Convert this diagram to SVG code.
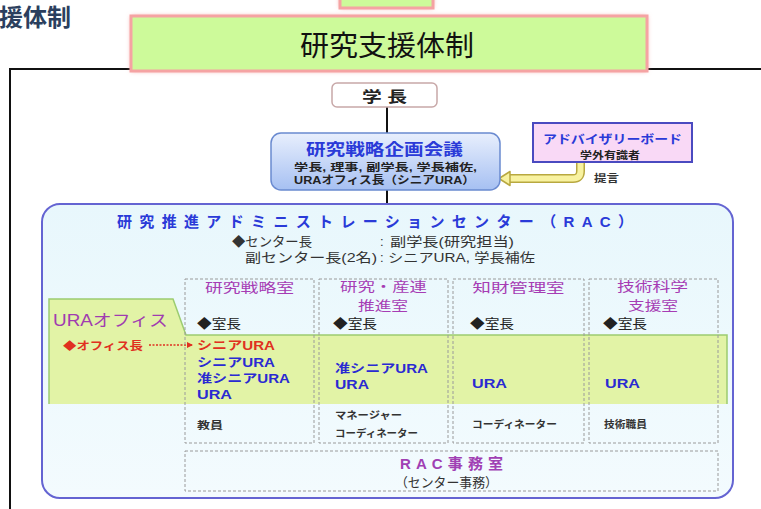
<svg xmlns="http://www.w3.org/2000/svg" width="761" height="509" viewBox="0 0 761 509">
<defs>
<style>
.jp{font-family:"Liberation Sans","Noto Sans CJK JP",sans-serif}
.b{font-weight:bold}
.dept{font-family:"Noto Sans CJK JP",sans-serif;font-size:13px;fill:#a63cb4;text-anchor:middle}
.chief{font-family:"Noto Sans CJK JP",sans-serif;font-size:13px;fill:#222}
.ura{font-family:"Liberation Sans","Noto Sans CJK JP",sans-serif;font-size:12px;font-weight:bold;fill:#2a2ad2}
.staff{font-family:"Noto Sans CJK JP",sans-serif;font-size:10px;font-weight:bold;fill:#333}
.hd{font-family:"Liberation Sans","Noto Sans CJK JP",sans-serif;font-size:13px;fill:#333}
.dash{fill:none;stroke:#9a9a9a;stroke-width:1;stroke-dasharray:3 2}
.conn{stroke:#111;stroke-width:2;fill:none}
</style>
<linearGradient id="gStrat" x1="0" y1="0" x2="0" y2="1">
<stop offset="0" stop-color="#e8effd"/><stop offset="1" stop-color="#a6c0f2"/>
</linearGradient>
<linearGradient id="gRac" x1="0" y1="0" x2="0" y2="1">
<stop offset="0" stop-color="#e8f7fc"/><stop offset="1" stop-color="#f3fbfe"/>
</linearGradient>
<filter id="glow" x="-10%" y="-30%" width="120%" height="160%">
<feGaussianBlur stdDeviation="2.5"/>
</filter>
<marker id="arrRed" markerWidth="6" markerHeight="6" refX="5" refY="3" orient="auto" markerUnits="userSpaceOnUse">
<path d="M0,0 L6,3 L0,6 z" fill="#e03020"/>
</marker>
</defs>
<rect width="761" height="509" fill="#fff"/>

<!-- page heading -->
<text x="-1" y="26" class="jp b" font-size="24" fill="#2b3f5e">援体制</text>

<!-- outer frame -->
<path d="M10,515 V69 H770" fill="none" stroke="#111" stroke-width="2"/>

<!-- title boxes -->
<g id="title-top">
<rect x="340" y="-12" width="93" height="20" fill="#f4a0a0" filter="url(#glow)"/>
<rect x="340" y="-12" width="93" height="20" fill="#cdfa9a" stroke="#f5a3a3" stroke-width="3"/>
</g>
<g id="title">
<rect x="131" y="16" width="516" height="55" fill="#f4a0a0" filter="url(#glow)"/>
<rect x="131" y="16" width="516" height="55" fill="#cdfa9a" stroke="#f5a3a3" stroke-width="3"/>
<text x="300" y="56" font-family="Noto Sans CJK JP,sans-serif" font-size="28" fill="#111" textLength="174" lengthAdjust="spacingAndGlyphs">研究支援体制</text>
</g>

<!-- connectors -->
<g id="connectors">
<line class="conn" x1="387" y1="107" x2="387" y2="133"/>
<line class="conn" x1="387" y1="190" x2="387" y2="205"/>
<path d="M580.5,162 V171 Q580.5,178.5 573,178.5 H508" fill="none" stroke="#b8a840" stroke-width="9"/>
<path d="M580.5,161 V171 Q580.5,178.5 573,178.5 H507" fill="none" stroke="#f8f2a0" stroke-width="6"/>
<path d="M499,178.5 L510,171.5 L510,185.5 z" fill="#f8f2a0" stroke="#b8a840" stroke-width="1.5" stroke-linejoin="round"/>
<text x="594" y="182" class="jp b" font-size="10" fill="#333" textLength="25" lengthAdjust="spacingAndGlyphs">提言</text>
</g>

<!-- president -->
<g id="president">
<rect x="332" y="83" width="105" height="24" rx="5" fill="#fff" stroke="#c8a8a8" stroke-width="1.5"/>
<text x="362" y="102" class="jp b" font-size="15" fill="#222" textLength="45" lengthAdjust="spacingAndGlyphs">学 長</text>
</g>

<!-- strategy council -->
<g id="strategy-council">
<rect x="271" y="133" width="229" height="57" rx="10" fill="url(#gStrat)" stroke="#6a8ad0" stroke-width="1.5"/>
<text x="306" y="155" class="jp b" font-size="16" fill="#2a3ad8" textLength="157" lengthAdjust="spacingAndGlyphs">研究戦略企画会議</text>
<text x="294" y="171" class="jp b" font-size="10" fill="#222" textLength="183" lengthAdjust="spacingAndGlyphs">学長, 理事, 副学長, 学長補佐,</text>
<text x="294" y="184" class="jp b" font-size="11" fill="#222" textLength="181" lengthAdjust="spacingAndGlyphs">URAオフィス長（シニアURA）</text>
</g>

<!-- advisory board -->
<g id="advisory-board">
<rect x="533" y="123" width="159" height="39" fill="#f9d9f6" stroke="#4a4ac0" stroke-width="2"/>
<text x="543" y="144" class="jp b" font-size="12" fill="#2a3ad8" textLength="139" lengthAdjust="spacingAndGlyphs">アドバイザリーボード</text>
<text x="580" y="159" class="jp b" font-size="10" fill="#222" textLength="60" lengthAdjust="spacingAndGlyphs">学外有識者</text>
</g>

<!-- RAC -->
<g id="rac">
<rect x="42" y="204" width="691" height="294" rx="18" fill="url(#gRac)" stroke="#6464d2" stroke-width="2"/>
<text x="117" y="227" class="jp b" font-size="15" fill="#2a3ad8" textLength="516" lengthAdjust="spacing">研究推進アドミニストレーションセンター（RAC）</text>
<text x="232" y="246" class="hd" textLength="80" lengthAdjust="spacingAndGlyphs">◆センター長</text>
<text x="380" y="246" class="hd">:</text>
<text x="390" y="246" class="hd" textLength="124" lengthAdjust="spacingAndGlyphs">副学長(研究担当)</text>
<text x="245" y="262" class="hd" textLength="132" lengthAdjust="spacingAndGlyphs">副センター長(2名)</text>
<text x="380" y="262" class="hd">:</text>
<text x="388" y="262" class="hd" textLength="147" lengthAdjust="spacingAndGlyphs">シニアURA, 学長補佐</text>
</g>

<!-- URA office band -->
<g id="ura-office">
<path d="M49,404 V299 H173 L186,335 H727 V404 z" fill="#e2f3a6"/>
<path d="M49,404 V299 H173 L186,335 H727 V404" fill="none" stroke="#9ccc70" stroke-width="1.5"/>
<text x="53" y="326" class="jp" font-size="16" fill="#a03cb0" textLength="115" lengthAdjust="spacingAndGlyphs">URAオフィス</text>
<text x="63" y="350" class="jp b" font-size="11" fill="#e03020" textLength="80" lengthAdjust="spacingAndGlyphs">◆オフィス長</text>
<line x1="149" y1="345" x2="192" y2="345" stroke="#e03020" stroke-width="1.5" stroke-dasharray="2 1.5" marker-end="url(#arrRed)"/>
</g>

<!-- departments -->
<g id="dept-strategy">
<rect class="dash" x="185" y="279" width="129" height="164"/>
<text class="dept" x="249.5" y="292" textLength="89" lengthAdjust="spacingAndGlyphs">研究戦略室</text>
<text class="chief" x="197" y="328" textLength="44" lengthAdjust="spacingAndGlyphs">◆室長</text>
<text class="ura" x="197" y="350" style="fill:#e03020" textLength="78" lengthAdjust="spacingAndGlyphs">シニアURA</text>
<text class="ura" x="197" y="367" textLength="78" lengthAdjust="spacingAndGlyphs">シニアURA</text>
<text class="ura" x="197" y="383" textLength="93" lengthAdjust="spacingAndGlyphs">准シニアURA</text>
<text class="ura" x="197" y="399" textLength="35" lengthAdjust="spacingAndGlyphs">URA</text>
<text class="staff" x="197" y="429" textLength="26" lengthAdjust="spacingAndGlyphs">教員</text>
</g>
<g id="dept-industry">
<rect class="dash" x="319" y="279" width="129" height="164"/>
<text class="dept" x="383.5" y="291" textLength="87" lengthAdjust="spacingAndGlyphs">研究・産連</text>
<text class="dept" x="383" y="310" textLength="50" lengthAdjust="spacingAndGlyphs">推進室</text>
<text class="chief" x="333" y="328" textLength="44" lengthAdjust="spacingAndGlyphs">◆室長</text>
<text class="ura" x="335" y="373" textLength="93" lengthAdjust="spacingAndGlyphs">准シニアURA</text>
<text class="ura" x="335" y="389" textLength="34" lengthAdjust="spacingAndGlyphs">URA</text>
<text class="staff" x="335" y="419" textLength="67" lengthAdjust="spacingAndGlyphs">マネージャー</text>
<text class="staff" x="335" y="437" textLength="83" lengthAdjust="spacingAndGlyphs">コーディネーター</text>
</g>
<g id="dept-ip">
<rect class="dash" x="453" y="279" width="131" height="164"/>
<text class="dept" x="518.5" y="292" textLength="92" lengthAdjust="spacingAndGlyphs">知財管理室</text>
<text class="chief" x="470" y="328" textLength="44" lengthAdjust="spacingAndGlyphs">◆室長</text>
<text class="ura" x="472" y="388" textLength="35" lengthAdjust="spacingAndGlyphs">URA</text>
<text class="staff" x="472" y="428" textLength="85" lengthAdjust="spacingAndGlyphs">コーディネーター</text>
</g>
<g id="dept-tech">
<rect class="dash" x="589" y="279" width="129" height="164"/>
<text class="dept" x="652.5" y="291" textLength="71" lengthAdjust="spacingAndGlyphs">技術科学</text>
<text class="dept" x="653" y="310" textLength="50" lengthAdjust="spacingAndGlyphs">支援室</text>
<text class="chief" x="603" y="328" textLength="44" lengthAdjust="spacingAndGlyphs">◆室長</text>
<text class="ura" x="605" y="388" textLength="35" lengthAdjust="spacingAndGlyphs">URA</text>
<text class="staff" x="604" y="428" textLength="43" lengthAdjust="spacingAndGlyphs">技術職員</text>
</g>
<g id="rac-office">
<rect class="dash" x="185" y="451" width="533" height="40"/>
<text x="400" y="469" class="jp b" font-size="15" fill="#a040b4" textLength="103" lengthAdjust="spacing">RAC事務室</text>
<text x="395" y="487" class="jp" font-size="13" fill="#333" textLength="103" lengthAdjust="spacingAndGlyphs">（センター事務）</text>
</g>
</svg>
